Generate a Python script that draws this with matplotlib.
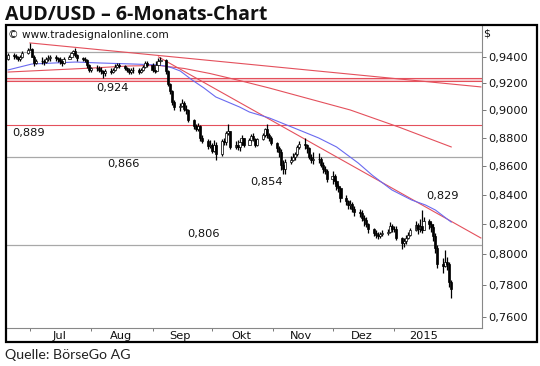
import matplotlib
matplotlib.use("Agg")
import matplotlib.pyplot as plt
import matplotlib.dates as mdates
from matplotlib.patches import Rectangle
from matplotlib.ticker import NullLocator
import numpy as np
import pandas as pd

# ============================================================
# DATA  (AUD/USD daily bars, 20.06.2014 - 30.01.2015)
# ============================================================
first_open = 0.9385

closes = [
    0.9410,
    0.9405, 0.9395, 0.9380, 0.9395, 0.9425,   # Jun 23
    0.9455, 0.9460, 0.9400, 0.9350, 0.9365,   # Jun 30
    0.9370, 0.9360, 0.9385, 0.9390, 0.9395,   # Jul 7
    0.9390, 0.9380, 0.9365, 0.9355, 0.9385,   # Jul 14
    0.9395, 0.9425, 0.9440, 0.9410, 0.9390,   # Jul 21
    0.9385, 0.9375, 0.9340, 0.9295, 0.9310,   # Jul 28
    0.9315, 0.9300, 0.9290, 0.9275, 0.9290,   # Aug 4
    0.9285, 0.9300, 0.9325, 0.9340, 0.9330,   # Aug 11
    0.9310, 0.9300, 0.9285, 0.9300, 0.9295,   # Aug 18
    0.9285, 0.9300, 0.9325, 0.9350, 0.9340,   # Aug 25
    0.9300, 0.9290, 0.9340, 0.9365, 0.9375,   # Sep 1
    0.9290, 0.9190, 0.9140, 0.9060, 0.9025,   # Sep 8
    0.9030, 0.9055, 0.9010, 0.9000, 0.8930,   # Sep 15
    0.8880, 0.8860, 0.8885, 0.8795, 0.8775,   # Sep 22
    0.8740, 0.8750, 0.8705, 0.8750, 0.8680,   # Sep 29
    0.8775, 0.8770, 0.8830, 0.8845, 0.8735,   # Oct 6
    0.8750, 0.8735, 0.8765, 0.8795, 0.8750,   # Oct 13
    0.8780, 0.8810, 0.8790, 0.8750, 0.8790,   # Oct 20
    0.8820, 0.8860, 0.8815, 0.8800, 0.8760,   # Oct 27
    0.8725, 0.8700, 0.8605, 0.8580, 0.8625,   # Nov 3
    0.8640, 0.8660, 0.8685, 0.8730, 0.8755,   # Nov 10
    0.8745, 0.8725, 0.8665, 0.8640, 0.8650,   # Nov 17
    0.8645, 0.8605, 0.8575, 0.8560, 0.8505,   # Nov 24
    0.8530, 0.8495, 0.8460, 0.8445, 0.8375,   # Dec 1
    0.8355, 0.8330, 0.8335, 0.8300, 0.8285,   # Dec 8
    0.8275, 0.8240, 0.8225, 0.8200, 0.8165,   # Dec 15
    0.8140, 0.8130, 0.8120, 0.8135, 0.8140,   # Dec 22
    0.8150, 0.8190, 0.8165, 0.8170, 0.8110,   # Dec 29
    0.8075, 0.8085, 0.8110, 0.8125, 0.8160,   # Jan 5
    0.8195, 0.8170, 0.8185, 0.8160, 0.8220,   # Jan 12
    0.8200, 0.8180, 0.8120, 0.8045, 0.7935,   # Jan 19
    0.7925, 0.7950, 0.7935, 0.7825, 0.7780,   # Jan 26
]

highs = [
    0.9425,
    0.9425, 0.9420, 0.9405, 0.9410, 0.9440,
    0.9465, 0.9505, 0.9465, 0.9410, 0.9385,
    0.9395, 0.9385, 0.9400, 0.9410, 0.9410,
    0.9410, 0.9400, 0.9395, 0.9380, 0.9395,
    0.9410, 0.9435, 0.9455, 0.9467, 0.9420,
    0.9400, 0.9395, 0.9385, 0.9345, 0.9325,
    0.9335, 0.9330, 0.9320, 0.9300, 0.9305,
    0.9310, 0.9315, 0.9345, 0.9355, 0.9350,
    0.9340, 0.9325, 0.9310, 0.9315, 0.9320,
    0.9310, 0.9315, 0.9340, 0.9365, 0.9365,
    0.9350, 0.9320, 0.9365, 0.9390, 0.9400,
    0.9380, 0.9300, 0.9200, 0.9150, 0.9075,
    0.9055, 0.9080, 0.9070, 0.9040, 0.9010,
    0.8935, 0.8900, 0.8905, 0.8890, 0.8815,
    0.8790, 0.8780, 0.8760, 0.8785, 0.8770,
    0.8790, 0.8800, 0.8850, 0.8895, 0.8850,
    0.8775, 0.8785, 0.8790, 0.8815, 0.8800,
    0.8800, 0.8825, 0.8830, 0.8800, 0.8800,
    0.8830, 0.8870, 0.8895, 0.8835, 0.8810,
    0.8770, 0.8740, 0.8720, 0.8640, 0.8650,
    0.8670, 0.8690, 0.8700, 0.8745, 0.8775,
    0.8795, 0.8755, 0.8735, 0.8680, 0.8695,
    0.8690, 0.8665, 0.8625, 0.8595, 0.8580,
    0.8560, 0.8545, 0.8500, 0.8475, 0.8450,
    0.8400, 0.8365, 0.8360, 0.8350, 0.8320,
    0.8300, 0.8295, 0.8260, 0.8250, 0.8205,
    0.8175, 0.8160, 0.8150, 0.8150, 0.8160,
    0.8170, 0.8215, 0.8200, 0.8185, 0.8185,
    0.8115, 0.8110, 0.8125, 0.8145, 0.8175,
    0.8220, 0.8205, 0.8235, 0.8295, 0.8250,
    0.8235, 0.8215, 0.8200, 0.8140, 0.8060,
    0.7975, 0.8030, 0.7985, 0.7950, 0.7835,
]

lows = [
    0.9375,
    0.9385, 0.9380, 0.9365, 0.9370, 0.9390,
    0.9420, 0.9450, 0.9395, 0.9330, 0.9345,
    0.9345, 0.9340, 0.9355, 0.9365, 0.9370,
    0.9370, 0.9360, 0.9345, 0.9330, 0.9345,
    0.9380, 0.9390, 0.9415, 0.9400, 0.9370,
    0.9365, 0.9360, 0.9315, 0.9280, 0.9285,
    0.9290, 0.9280, 0.9265, 0.9240, 0.9250,
    0.9270, 0.9275, 0.9290, 0.9315, 0.9310,
    0.9295, 0.9280, 0.9265, 0.9270, 0.9275,
    0.9270, 0.9275, 0.9290, 0.9315, 0.9320,
    0.9285, 0.9275, 0.9280, 0.9340, 0.9355,
    0.9270, 0.9175, 0.9120, 0.9040, 0.9000,
    0.8990, 0.9020, 0.8990, 0.8970, 0.8915,
    0.8860, 0.8845, 0.8850, 0.8775, 0.8760,
    0.8720, 0.8725, 0.8690, 0.8695, 0.8643,
    0.8670, 0.8745, 0.8750, 0.8820, 0.8720,
    0.8720, 0.8710, 0.8705, 0.8750, 0.8735,
    0.8745, 0.8770, 0.8775, 0.8730, 0.8740,
    0.8780, 0.8805, 0.8800, 0.8775, 0.8745,
    0.8700, 0.8660, 0.8570, 0.8545, 0.8540,
    0.8610, 0.8630, 0.8640, 0.8670, 0.8720,
    0.8715, 0.8690, 0.8645, 0.8620, 0.8615,
    0.8620, 0.8590, 0.8550, 0.8540, 0.8490,
    0.8470, 0.8470, 0.8435, 0.8420, 0.8350,
    0.8330, 0.8305, 0.8300, 0.8285, 0.8255,
    0.8250, 0.8220, 0.8190, 0.8180, 0.8140,
    0.8120, 0.8110, 0.8100, 0.8105, 0.8120,
    0.8130, 0.8140, 0.8150, 0.8145, 0.8095,
    0.8033, 0.8050, 0.8070, 0.8100, 0.8120,
    0.8155, 0.8135, 0.8150, 0.8140, 0.8185,
    0.8165, 0.8150, 0.8085, 0.8010, 0.7915,
    0.7880, 0.7920, 0.7900, 0.7790, 0.7720,
]

# 50-Tage-Linie (blau)
ma50_dates = ["2014-06-20", "2014-07-02", "2014-07-24", "2014-08-05", "2014-08-22",
              "2014-09-04", "2014-09-08", "2014-09-11", "2014-09-15", "2014-09-21",
              "2014-09-27", "2014-10-03", "2014-10-09", "2014-10-15", "2014-10-20",
              "2014-10-30", "2014-11-14", "2014-11-24", "2014-12-03", "2014-12-14",
              "2014-12-21", "2014-12-31", "2015-01-10", "2015-01-17", "2015-01-22",
              "2015-01-30"]
ma50_vals = [0.9299, 0.9344, 0.9359, 0.9352, 0.9344,
             0.9337, 0.9327, 0.9314, 0.9291, 0.9223,
             0.9163, 0.9096, 0.9059, 0.9022, 0.8985,
             0.8942, 0.8855, 0.8797, 0.8733, 0.8619,
             0.8535, 0.8432, 0.8363, 0.8329, 0.8295,
             0.8214]

# 200-Tage-Linie (rot)
ma200_dates = ["2014-06-20", "2014-08-01", "2014-08-20", "2014-09-04", "2014-09-17",
               "2014-09-30", "2014-10-15", "2014-10-30", "2014-11-14", "2014-12-10",
               "2015-01-04", "2015-01-30"]
ma200_vals = [0.9283, 0.9313, 0.9329, 0.9333, 0.9310,
              0.9272, 0.9219, 0.9163, 0.9103, 0.9000,
              0.8873, 0.8733]

# Trendlinien
trend1_dates = ["2014-07-01", "2015-02-14"]
trend1_vals = [0.9506, 0.9171]
trend2_dates = ["2014-09-04", "2015-02-14"]
trend2_vals = [0.9398, 0.8108]

# horizontale Marken
gray_levels = [0.9438, 0.866, 0.806]
red_levels = [0.889]
band_levels = [0.9214, 0.9238]

ytick_vals = [0.76, 0.78, 0.80, 0.82, 0.84, 0.86, 0.88, 0.90, 0.92, 0.94]
ytick_labels = ["0,7600", "0,7800", "0,8000", "0,8200", "0,8400",
                "0,8600", "0,8800", "0,9000", "0,9200", "0,9400"]
month_starts = ["2014-07-01", "2014-08-01", "2014-09-01", "2014-10-01",
                "2014-11-01", "2014-12-01", "2015-01-01"]
month_mids = ["2014-07-16", "2014-08-16", "2014-09-15", "2014-10-16",
              "2014-11-15", "2014-12-16", "2015-01-16"]
month_labels = ["Jul", "Aug", "Sep", "Okt", "Nov", "Dez", "2015"]

# (text, x px, y px) im Bild
level_texts = [("0,924", 112.5, 88), ("0,889", 29, 133), ("0,866", 123, 164),
               ("0,854", 266.5, 182), ("0,806", 204, 234), ("0,829", 443, 196)]

# ============================================================
# PREP
# ============================================================
dates = pd.bdate_range("2014-06-20", "2015-01-30")
x = mdates.date2num(dates)
closes = np.array(closes)
opens = np.r_[first_open, closes[:-1]]
highs = np.maximum(np.array(highs), np.maximum(opens, closes))
lows = np.minimum(np.array(lows), np.minimum(opens, closes))

RED = "#e4505c"
BLUE = "#6a6af0"
GRAY = "#a8a8a8"

W, H = 540, 366
ax_l, ax_r, ax_t, ax_b = 6, 481.7, 25, 327.7

fig = plt.figure(figsize=(W / 100, H / 100), dpi=100)
ax = fig.add_axes([ax_l / W, 1 - ax_b / H, (ax_r - ax_l) / W, (ax_b - ax_t) / H])
ax.set_yscale("log")

# Linien
for lv in gray_levels:
    ax.axhline(lv, color=GRAY, lw=0.9, zorder=1)
ax.axhspan(band_levels[0], band_levels[1], color="#f7cdd1", lw=0, zorder=1)
for lv in band_levels + red_levels:
    ax.axhline(lv, color=RED, lw=0.8, zorder=1)

ax.plot(pd.to_datetime(trend1_dates), trend1_vals, color=RED, lw=0.8, zorder=2)
ax.plot(pd.to_datetime(trend2_dates), trend2_vals, color=RED, lw=0.8, zorder=2)
ax.plot(pd.to_datetime(ma200_dates), ma200_vals, color=RED, lw=0.8, zorder=2)
ax.plot(pd.to_datetime(ma50_dates), ma50_vals, color=BLUE, lw=0.8, zorder=2)

# Kerzen
up = closes >= opens
ax.vlines(x, lows, highs, color="black", lw=0.9, zorder=3)
body_lo = np.minimum(opens, closes)
body_h = np.abs(closes - opens)
ax.bar(x[up], body_h[up], bottom=body_lo[up], width=1.1,
       facecolor="white", edgecolor="black", lw=0.5, zorder=4)
ax.bar(x[~up], body_h[~up], bottom=body_lo[~up], width=1.1,
       facecolor="black", edgecolor="black", lw=0.5, zorder=4)

# Achsen
ax.set_xlim(mdates.datestr2num("2014-06-18 22:00"), mdates.datestr2num("2015-02-14 10:00"))
ax.set_ylim(0.7536, 0.9646)

ax.yaxis.tick_right()
ax.set_yticks(ytick_vals)
ax.set_yticklabels(ytick_labels)
ax.yaxis.set_minor_locator(NullLocator())
ax.tick_params(axis="y", which="major", length=3, pad=1.5, width=0.7,
               color="#777777", labelsize=8.2, labelcolor="#111111")

ax.set_xticks(mdates.datestr2num(month_starts))
ax.set_xticklabels([])
ax.set_xticks(mdates.datestr2num(month_mids), minor=True)
ax.set_xticklabels(month_labels, minor=True)
ax.tick_params(axis="x", which="major", length=2.5, width=0.7, color="#777777")
ax.tick_params(axis="x", which="minor", length=0, pad=2.4, labelsize=8.2,
               labelcolor="#111111")

for side in ["top", "left"]:
    ax.spines[side].set_visible(False)
for side in ["right", "bottom"]:
    ax.spines[side].set_color("#888888")
    ax.spines[side].set_linewidth(0.8)

# Texte im Chart
def px2ax(px, py):
    return (px - ax_l) / (ax_r - ax_l), (ax_b - py) / (ax_b - ax_t)

for txt, px, py in level_texts:
    ax.text(*px2ax(px, py), txt, transform=ax.transAxes, ha="center",
            va="center", fontsize=8.2, color="#111111")

ax.text(*px2ax(8, 35), "\u00a9 www.tradesignalonline.com", transform=ax.transAxes,
        ha="left", va="center", fontsize=7.6, color="#111111")
fig.text(483 / W, 1 - 33 / H, "$", ha="left", va="center", fontsize=8, color="#111111")

# Rahmen
fig.add_artist(Rectangle((6 / W, 1 - 341.7 / H), 530.7 / W, 316.7 / H,
                         transform=fig.transFigure, fill=False,
                         edgecolor="black", lw=1.6))

# Titel / Quelle
fig.text(5 / W, 1 - 20 / H, "AUD/USD \u2013 6-Monats-Chart", ha="left",
         va="baseline", fontsize=14, fontweight="bold", family="Open Sans",
         color="#111111")
fig.text(5 / W, 1 - 359 / H, "Quelle: BörseGo AG", ha="left", va="baseline",
         fontsize=10.2, family="Lato", color="#222222")

fig.savefig("out.png", dpi=100)
